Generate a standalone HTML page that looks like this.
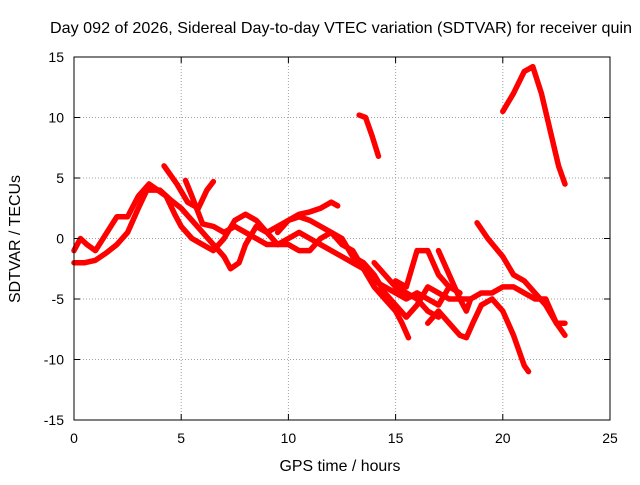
<!DOCTYPE html>
<html><head><meta charset="utf-8"><style>
body{margin:0;background:#fff;}
svg text{font-family:"Liberation Sans",sans-serif;font-size:14px;fill:#000;}
svg text.big{font-size:16px;}
</style></head><body>
<svg id="chart" width="640" height="480" xmlns="http://www.w3.org/2000/svg">
<rect width="640" height="480" fill="#fff"/>
<text class="big" x="341" y="33" text-anchor="middle" textLength="582" lengthAdjust="spacingAndGlyphs">Day 092 of 2026, Sidereal Day-to-day VTEC variation (SDTVAR) for receiver quin</text>
<text class="big" x="340" y="471" text-anchor="middle" textLength="121" lengthAdjust="spacingAndGlyphs">GPS time / hours</text>
<text class="big" x="20" y="239" text-anchor="middle" textLength="128" lengthAdjust="spacingAndGlyphs" transform="rotate(-90 20 239)">SDTVAR / TECUs</text>
<g id="grid"></g><g id="series"></g><g id="axes"></g>
</svg>
<script>
const xTicks=[0,5,10,15,20,25];
const yTicks=[-15,-10,-5,0,5,10,15];
const traceA=[[0,-2],[0.5,-2],[1,-1.8],[1.5,-1.2],[2,-0.5],[2.5,0.5],[3,2.5],[3.4,4],[4,4],[4.5,3.2],[5,2.5],[5.5,1.5],[6,0.5],[6.5,-0.5],[7,-1.5],[7.3,-2.5],[7.7,-2],[8,-0.5],[8.5,1],[9,0.5],[9.5,-0.5],[10,0],[10.5,0.5],[11,0],[11.5,-0.5],[12,-1],[12.5,-1.5],[13,-2],[13.5,-2.5],[14,-4],[14.5,-5],[15,-6],[15.3,-7],[15.6,-8.2]];
const traceB=[[0,-1],[0.3,0],[0.6,-0.5],[1,-1],[2,1.8],[2.5,1.8],[3,3.5],[3.5,4.5],[4.3,3.5],[4.7,2],[5,1],[5.5,0],[6,-0.5],[6.5,-1],[7,0],[7.5,1.5],[8,2],[8.5,1.5],[9,0.5],[9.5,1],[10,1.5],[10.5,1.8],[11,1.5],[11.5,1],[12,0.5],[12.5,-0.5],[13,-1],[13.5,-2.5],[14,-3.5],[14.5,-4],[15,-4.5],[15.5,-5],[16,-4.5],[16.5,-5],[17,-5.5],[17.5,-4]];
const traceC=[[4.2,6],[4.8,4.5],[5.3,3],[5.8,2.5],[6.2,4],[6.5,4.7]];
const traceD=[[5.2,4.8],[5.5,3.5],[6,1.2],[6.5,1],[7,0.5],[7.5,1],[8,0.5],[8.5,0],[9,-0.5],[9.5,-0.5],[10,-0.5],[10.5,-1],[11,-1],[11.5,0],[12,0.5],[12.5,0],[13,-1.5],[13.5,-2],[14,-3],[14.5,-4.5],[15,-5.5],[15.5,-6.5],[16,-5.5],[16.5,-4],[17,-4.5],[17.5,-5],[18,-5],[18.5,-5]];
const traceE=[[9.5,0.5],[10,1.5],[10.5,2],[11,2.2],[11.5,2.5],[12,3],[12.3,2.7]];
const traceF=[[13.3,10.2],[13.6,10],[13.9,8.5],[14.2,6.8]];
const traceG=[[15,-3.5],[15.5,-4],[16,-1],[16.5,-1],[17,-3],[17.5,-4],[18,-4.5]];
const traceH=[[17,-1],[17.5,-3],[18,-5],[18.3,-6],[18.5,-5],[19,-4.5],[19.5,-4.5],[20,-4],[20.5,-4],[21,-4.5],[21.5,-5],[22,-5],[22.5,-7],[22.9,-7]];
const traceI=[[16.5,-7],[17,-6],[17.5,-7],[18,-8],[18.3,-8.2],[18.6,-7],[19,-5.5],[19.5,-5],[20,-6],[20.5,-8],[21,-10.5],[21.2,-11]];
const traceJ=[[18.8,1.3],[19.3,0],[20,-1.5],[20.5,-3],[21,-3.5],[21.5,-4.5],[22,-5.5],[22.5,-7],[22.9,-8]];
const traceK=[[20,10.5],[20.5,12],[21,13.8],[21.4,14.2],[21.8,12],[22.2,9],[22.6,6],[22.9,4.5]];
const traceL=[[14,-2],[14.5,-3],[15,-4],[15.5,-4.5],[16,-5],[16.5,-6],[17,-6.5]];
const traces=[traceA,traceB,traceC,traceD,traceE,traceF,traceG,traceH,traceI,traceJ,traceK,traceL];

const L=74,R=610,T=57,B=420;
const sx=v=>L+(v-0)/(25-0)*(R-L);
const sy=v=>B-(v+15)/30*(B-T);
const NS="http://www.w3.org/2000/svg";
function mk(tag,attrs,parent){const e=document.createElementNS(NS,tag);for(const k in attrs)e.setAttribute(k,attrs[k]);parent.appendChild(e);return e;}
const grid=document.getElementById('grid'),axes=document.getElementById('axes'),ser=document.getElementById('series');
xTicks.forEach(t=>{
  if(t>0&&t<25){const g=mk('line',{x1:sx(t),x2:sx(t),y1:T,y2:B,stroke:'#a0a0a0','stroke-dasharray':'1,2','stroke-width':1},grid);
  
  }
  const tl=mk('text',{x:sx(t),y:B+23,'text-anchor':'middle'},axes);tl.textContent=t;
  
  
  mk('line',{x1:sx(t),x2:sx(t),y1:B,y2:B-6,stroke:'#000'},axes);
  mk('line',{x1:sx(t),x2:sx(t),y1:T,y2:T+6,stroke:'#000'},axes);
});
yTicks.forEach(t=>{
  if(t>-15&&t<15){const g=mk('line',{x1:L,x2:R,y1:sy(t),y2:sy(t),stroke:'#a0a0a0','stroke-dasharray':'1,2','stroke-width':1},grid);
  
  }
  const tl=mk('text',{x:L-10,y:sy(t)+5,'text-anchor':'end'},axes);tl.textContent=t;
  
  
  mk('line',{x1:L,x2:L+6,y1:sy(t),y2:sy(t),stroke:'#000'},axes);
  mk('line',{x1:R,x2:R-6,y1:sy(t),y2:sy(t),stroke:'#000'},axes);
});
const frame=mk('rect',{x:L,y:T,width:R-L,height:B-T,fill:'none',stroke:'#000'},axes);


traces.forEach(tr=>{
  const p=mk('polyline',{points:tr.map(d=>sx(d[0])+','+sy(d[1])).join(' '),fill:'none',stroke:'#ff0000','stroke-width':5.5,'stroke-linejoin':'round','stroke-linecap':'round'},ser);
  
  
});
</script>
</body></html>
